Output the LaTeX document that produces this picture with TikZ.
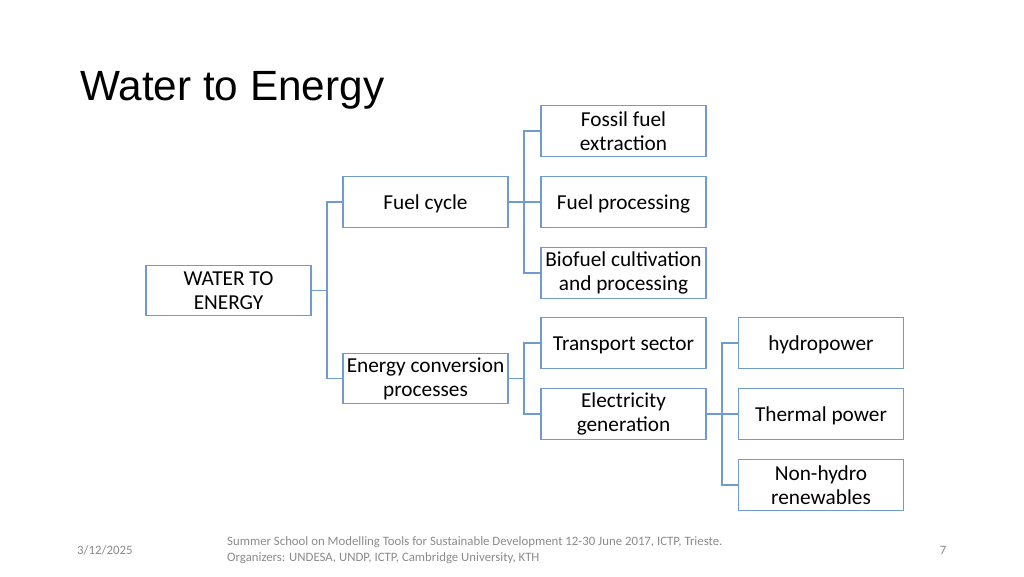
\documentclass[tikz,border=0pt]{standalone}
\usepackage{fontspec}
\setmainfont{Carlito}
\newfontfamily\titlefont{Liberation Sans}
\definecolor{boxblue}{HTML}{6F9BCF}
\definecolor{footgray}{HTML}{8A8A8A}
\begin{document}
\begin{tikzpicture}[x=1pt,y=-1pt,
  box/.style={draw=boxblue,line width=1.1pt,fill=white,minimum width=165pt,minimum height=50.5pt,inner sep=1pt,align=center,font=\fontsize{21.3}{24}\selectfont},
  one/.style={text height=17pt,text depth=2pt},
  link/.style={draw=boxblue,line width=1.1pt},
  foot/.style={text=footgray,inner sep=0pt,font=\fontsize{12.8}{16}\selectfont}]
\useasboundingbox (0,0) rectangle (1024,576);
\node[anchor=base west,inner sep=0pt,font=\titlefont\fontsize{42.3}{46}\selectfont] (title) at (80,100) {Water to Energy};
\node[box] (we) at (228.5,290.5) {WATER TO\\ENERGY};
\node[box,one] (fc) at (425.5,202) {Fuel cycle};
\node[box] (ec) at (425.5,378.5) {Energy conversion\\processes};
\node[box] (ff) at (623.5,131) {Fossil fuel\\extraction};
\node[box,one] (fp) at (623.5,202) {Fuel processing};
\node[box] (bf) at (623.5,273) {Biofuel cultivation\\and processing};
\node[box,one] (ts) at (623.5,343) {Transport sector};
\node[box] (eg) at (623.5,414) {Electricity\\generation};
\node[box,one] (hp) at (821,343) {hydropower};
\node[box,one] (tp) at (821,414) {Thermal power};
\node[box] (nh) at (821,485) {Non-hydro\\renewables};
\coordinate (j1) at (327,290.5);
\coordinate (j2) at (524,202);
\coordinate (j3) at (524,378.5);
\coordinate (j4) at (722,414);
\draw[link] (we.east) -- (j1);
\draw[link] (j1) |- (fc.west);
\draw[link] (j1) |- (ec.west);
\draw[link] (fc.east) -- (j2);
\draw[link] (j2) |- (ff.west);
\draw[link] (j2) |- (fp.west);
\draw[link] (j2) |- (bf.west);
\draw[link] (ec.east) -- (j3);
\draw[link] (j3) |- (ts.west);
\draw[link] (j3) |- (eg.west);
\draw[link] (eg.east) -- (j4);
\draw[link] (j4) |- (hp.west);
\draw[link] (j4) |- (tp.west);
\draw[link] (j4) |- (nh.west);
\node[foot,anchor=west] (date) at (77,550) {3/12/2025};
\node[foot,anchor=west,align=left] (footer) at (227,550) {Summer School on Modelling Tools for Sustainable Development 12-30 June 2017, ICTP, Trieste.\\Organizers: UNDESA, UNDP, ICTP, Cambridge University, KTH};
\node[foot,anchor=center] (pg) at (943,550) {7};
\end{tikzpicture}
\end{document}
